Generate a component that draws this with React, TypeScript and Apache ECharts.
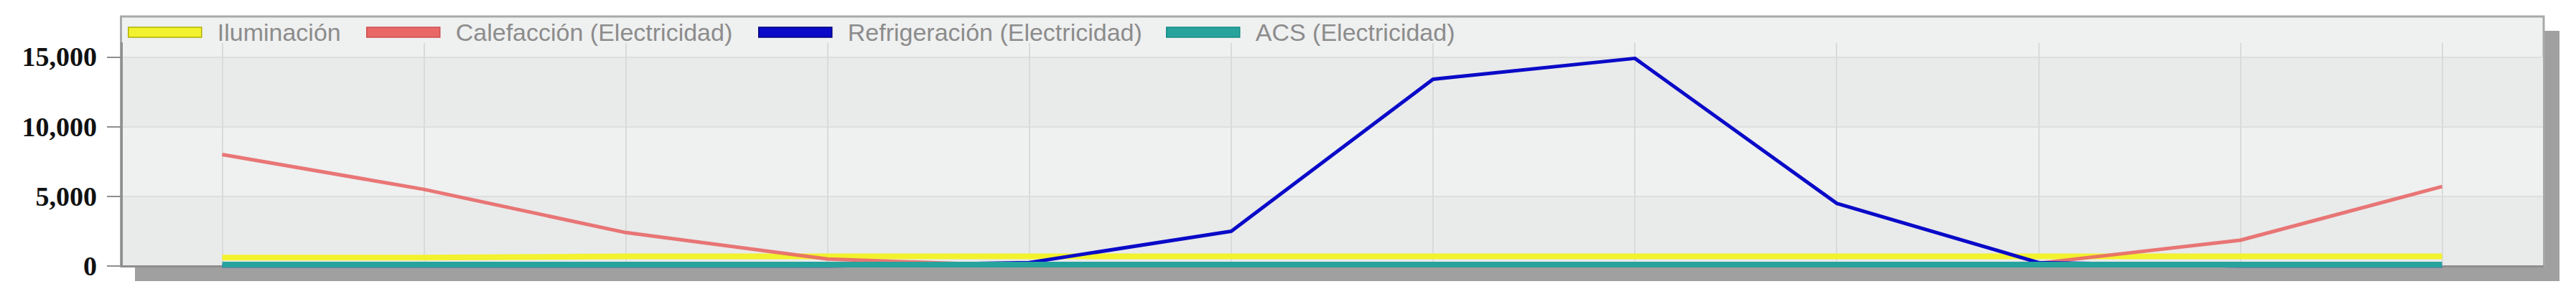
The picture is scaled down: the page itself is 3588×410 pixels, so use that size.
import React, { useEffect, useRef } from "react";
import * as echarts from "echarts";

// ---- data ----
const months = ["Ene", "Feb", "Mar", "Abr", "May", "Jun", "Jul", "Ago", "Sep", "Oct", "Nov", "Dic"];
const seriesNames = [
  "Iluminación",
  "Calefacción (Electricidad)",
  "Refrigeración (Electricidad)",
  "ACS (Electricidad)",
];
const iluminacion = [600, 600, 700, 700, 700, 700, 700, 700, 700, 700, 700, 700];
const calefaccion = [8000, 5500, 2400, 500, 0, 0, 0, 0, 0, 200, 1850, 5700];
const refrigeracion = [0, 0, 0, 0, 250, 2500, 13400, 14900, 4500, 250, 0, 0];
const acs = [100, 100, 100, 100, 100, 100, 100, 100, 100, 100, 100, 100];
const yTicks = [0, 5000, 10000, 15000];
const yMax = 16000;

// ---- styles ----
const seriesColors = ["#f2f22e", "#e86868", "#0a0ac8", "#27a39d"];
const legendBorders = ["#b0b000", "#cc5050", "#00007a", "#168a84"];
const lineWidths = [8, 5, 5, 8];
const legendLefts = [178, 510, 1056, 1624];

export default function App() {
  const ref = useRef<HTMLDivElement>(null);

  useEffect(() => {
    if (!ref.current) return;
    const chart = echarts.init(ref.current, undefined, { renderer: "svg" });
    const seriesData = [iluminacion, calefaccion, refrigeracion, acs];

    const option: any = {
      animation: false,
      backgroundColor: "#ffffff",
      textStyle: { fontFamily: "Liberation Sans" },
      graphic: [
        {
          type: "rect",
          z: -20,
          silent: true,
          shape: { x: 188, y: 43, width: 3377, height: 349 },
          style: { fill: "#a0a0a0" },
        },
        {
          type: "rect",
          z: -19,
          silent: true,
          shape: { x: 168.5, y: 23, width: 3374.5, height: 348 },
          style: { fill: "#eff0f0", stroke: "#a9a9a9", lineWidth: 3 },
        },
      ],
      legend: seriesNames.map((n, i) => ({
        data: [n],
        left: legendLefts[i],
        top: 28,
        padding: 0,
        icon: "rect",
        itemWidth: 102,
        itemHeight: 14,
        selectedMode: false,
        itemStyle: { borderColor: legendBorders[i], borderWidth: 1.5 },
        textStyle: {
          color: "#8c8c8c",
          fontSize: 34,
          fontFamily: "Liberation Sans",
          lineHeight: 34,
          padding: [0, 0, 0, 17],
        },
      })),
      grid: { left: 169, right: 46, top: 60, bottom: 39, containLabel: false },
      xAxis: {
        type: "category",
        data: months,
        boundaryGap: true,
        axisLine: { show: true, lineStyle: { color: "#8e8e8e", width: 3 } },
        axisTick: { show: false },
        axisLabel: { show: false },
        splitLine: { show: false },
      },
      yAxis: {
        type: "value",
        min: 0,
        max: yMax,
        interval: 5000,
        axisLine: { show: true, lineStyle: { color: "#8e8e8e", width: 3 } },
        axisTick: {
          show: true,
          length: 20,
          customValues: yTicks,
          lineStyle: { color: "#8e8e8e", width: 2 },
        },
        axisLabel: {
          show: true,
          margin: 34,
          customValues: yTicks,
          showMaxLabel: true,
          color: "#111111",
          fontFamily: "Liberation Serif",
          fontWeight: "bold",
          fontSize: 38,
          formatter: (v: number) => v.toLocaleString("en-US"),
        },
        splitLine: { show: true, lineStyle: { color: "#dedede", width: 2 } },
        splitArea: { show: true, areaStyle: { color: ["#e9eaea", "#eff0f0"] } },
      },
      series: seriesNames.map((n, i) => {
        const s: any = {
          name: n,
          type: "line",
          data: seriesData[i],
          showSymbol: false,
          symbol: "none",
          color: seriesColors[i],
          itemStyle: { color: seriesColors[i] },
          lineStyle: { color: seriesColors[i], width: lineWidths[i], opacity: i === 1 ? 0.9 : 1 },
          emphasis: { disabled: true },
          z: 2 + i,
        };
        if (i === 0) {
          s.markLine = {
            silent: true,
            symbol: ["none", "none"],
            label: { show: false },
            z: 1,
            lineStyle: { color: "#dadada", width: 2, type: "solid" },
            data: months.map((m) => ({ xAxis: m })),
          };
        }
        return s;
      }),
    };

    chart.setOption(option);
    return () => chart.dispose();
  }, []);

  return (
    <div
      ref={ref}
      style={{ position: "fixed", left: 0, top: 0, width: 3588, height: 410, background: "#fff" }}
    />
  );
}
